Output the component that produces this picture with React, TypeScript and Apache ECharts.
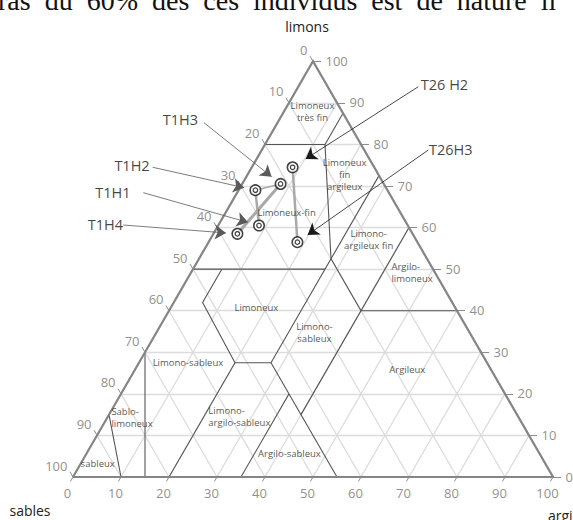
import React, { useEffect, useRef } from "react";
import * as echarts from "echarts";

// ---------- data (percent sable / limon / argile) ----------
const sampleNames = ["T1H1", "T1H2", "T1H3", "T1H4", "T26H2", "T26H3"];
const sampleSables = [31, 27.5, 21.5, 36.5, 17, 25];
const sampleLimons = [60.5, 69, 70.5, 58.5, 74.5, 56.5];
const sampleArgiles = [8.5, 3.5, 8, 5, 8.5, 18.5];

// profile links (horizon sequence)
const profileLinks: [string, string][] = [
  ["T1H1", "T1H2"],
  ["T1H2", "T1H3"],
  ["T1H3", "T1H4"],
  ["T26H2", "T26H3"],
];

const tickValues = [0, 10, 20, 30, 40, 50, 60, 70, 80, 90, 100];
const gridValues = [10, 20, 30, 40, 50, 60, 70, 80, 90];

// texture class boundaries, polylines of [sable, limon, argile]
const classBoundaries: number[][][] = [
  [[20, 80, 0], [7.5, 80, 12.5]],
  [[7.5, 80, 12.5], [0, 87.5, 12.5]],
  [[7.5, 80, 12.5], [20, 52.5, 27.5]],
  [[0, 72.5, 27.5], [45, 27.5, 27.5]],
  [[20, 52.5, 27.5], [20, 40, 40]],
  [[0, 60, 40], [45, 15, 40]],
  [[20, 40, 40], [0, 40, 60]],
  [[50, 50, 0], [22.5, 50, 27.5]],
  [[44, 50, 6], [52, 42, 6], [52.5, 27.5, 20], [45, 27.5, 27.5]],
  [[52.5, 27.5, 20], [80, 0, 20]],
  [[45, 27.5, 27.5], [45, 0, 55]],
  [[45, 20, 35], [65, 0, 35]],
  [[70, 30, 0], [85, 0, 15]],
  [[85, 15, 0], [90, 0, 10]],
];

const classNames = [
  "Limoneux\ntrès fin",
  "Limoneux\nfin\nargileux",
  "Limoneux-fin",
  "Limono-\nargileux fin",
  "Argilo-\nlimoneux",
  "Limoneux",
  "Limono-\nsableux",
  "Limono-sableux",
  "Argileux",
  "Sablo-\nlimoneux",
  "Limono-\nargilo-sableux",
  "Argilo-sableux",
  "sableux",
];

// ---------- layout ----------
const W = 573;
const H = 520;
const ORIGIN_X = 73; // pixel of sable=100 vertex
const BASE_Y = 477; // pixel of base line
const SCALE = 4.8; // px per percent
const SQ3 = Math.sqrt(3) / 2;
const FONT = "'Open Sans', 'Noto Sans', sans-serif";

// class label anchors [limon, argile, align]
const classLabelLayout: [number, number, string][] = [
  [87.8, 6.1, "center"],
  [72.6, 20.4, "center"],
  [63.6, 12.8, "center"],
  [57, 33.2, "center"],
  [49.1, 41.9, "left"],
  [40.6, 18, "center"],
  [34.6, 33.1, "center"],
  [27.5, 10.3, "center"],
  [25.7, 56.9, "center"],
  [14.2, 1.0, "left"],
  [14.4, 21.1, "left"],
  [5.6, 42.4, "center"],
  [3.1, 3.7, "center"],
];

// annotation layout (pixels): text center, arrow start, gap to marker
const annotLayout: Record<string, { label: string; text: [number, number]; start: [number, number]; gap: number; color: string }> = {
  T1H1: { label: "T1H1", text: [113.3, 192.7], start: [143.3, 192.7], gap: 6, color: "#5a5a5a" },
  T1H2: { label: "T1H2", text: [132.5, 166], start: [152.7, 167.3], gap: 6, color: "#5a5a5a" },
  T1H3: { label: "T1H3", text: [180.8, 120], start: [204, 122.7], gap: 6, color: "#5a5a5a" },
  T1H4: { label: "T1H4", text: [105.8, 225], start: [123.3, 225], gap: 6, color: "#5a5a5a" },
  T26H2: { label: "T26 H2", text: [445, 85], start: [418.3, 86.7], gap: 10, color: "#1a1a1a" },
  T26H3: { label: "T26H3", text: [451.3, 150], start: [428.3, 150], gap: 7, color: "#1a1a1a" },
};
const ARROW = 11;

const tern = (l: number, a: number): [number, number] => [a + l / 2, l * SQ3];
const px2data = (px: number, py: number): [number, number] => [(px - ORIGIN_X) / SCALE, (BASE_Y - py) / SCALE];

function buildOption() {
  const samplePos: Record<string, [number, number]> = {};
  sampleNames.forEach((n, i) => {
    samplePos[n] = tern(sampleLimons[i], sampleArgiles[i]);
  });

  const gridLines: any[] = [];
  gridValues.forEach((k) => {
    gridLines.push({ coords: [tern(k, 0), tern(k, 100 - k)] });
    gridLines.push({ coords: [tern(0, k), tern(100 - k, k)] });
    gridLines.push({ coords: [tern(0, 100 - k), tern(100 - k, 0)] });
  });

  const ticks: any[] = [];
  tickValues.forEach((k) => {
    const r = tern(k, 100 - k);
    ticks.push({ coords: [r, [r[0] + 8 / SCALE, r[1]]] });
    const l = tern(100 - k, 0);
    ticks.push({ coords: [l, [l[0] - 0.5 * 6 / SCALE, l[1] + SQ3 * 6 / SCALE]] });
    const b = tern(0, k);
    ticks.push({ coords: [b, [b[0] - 0.5 * 5 / SCALE, b[1] - SQ3 * 5 / SCALE]] });
  });

  const boundaries = classBoundaries.map((pl) => ({ coords: pl.map((p) => tern(p[1], p[2])) }));

  const triangle = [{ coords: [tern(0, 0), tern(0, 100), tern(100, 0), tern(0, 0)] }];

  const linkWidths = [2.5, 1.6, 3, 2.5];
  const links = profileLinks.map((pr, i) => ({
    coords: [samplePos[pr[0]], samplePos[pr[1]]],
    lineStyle: { width: linkWidths[i] },
  }));

  const arrows = sampleNames.map((n) => {
    const a = annotLayout[n];
    const s = px2data(a.start[0], a.start[1]);
    const m = samplePos[n];
    const dx = m[0] - s[0];
    const dy = m[1] - s[1];
    const len = Math.sqrt(dx * dx + dy * dy);
    const back = (a.gap + ARROW / 2) / SCALE;
    const e: [number, number] = [m[0] - (dx / len) * back, m[1] - (dy / len) * back];
    return { coords: [s, e], lineStyle: { color: a.color } };
  });

  const annotLabels = sampleNames.map((n) => ({
    name: annotLayout[n].label,
    value: px2data(annotLayout[n].text[0], annotLayout[n].text[1]),
  }));

  const labelScatter = (data: any[], label: any, z = 20) => ({
    type: "scatter",
    symbolSize: 1,
    silent: true,
    z,
    itemStyle: { color: "rgba(0,0,0,0)" },
    data,
    label: { show: true, formatter: "{b}", fontFamily: FONT, ...label },
  });

  const axisText = { fontSize: 13, color: "#727272" };

  return {
    animation: false,
    backgroundColor: "#ffffff",
    grid: { left: 0, right: 0, top: 0, bottom: 0, containLabel: false },
    xAxis: { type: "value", min: -ORIGIN_X / SCALE, max: (W - ORIGIN_X) / SCALE, show: false },
    yAxis: { type: "value", min: -(H - BASE_Y) / SCALE, max: BASE_Y / SCALE, show: false },
    graphic: [
      {
        type: "text",
        x: -2,
        y: 0,
        silent: true,
        style: {
          text: "ras\u00a0\u00a0du\u00a0\u00a060%\u00a0\u00a0des\u00a0\u00a0ces\u00a0\u00a0individus\u00a0\u00a0est\u00a0\u00a0de\u00a0\u00a0nature\u00a0\u00a0li",
          fontFamily: "'Liberation Serif', serif",
          fontSize: 28,
          fill: "#111",
          verticalAlign: "middle",
        },
      },
      { type: "text", x: 307, y: 26, silent: true, style: { text: "limons", fontFamily: FONT, fontSize: 14, fill: "#222", align: "center", verticalAlign: "middle" } },
      { type: "text", x: 30, y: 510, silent: true, style: { text: "sables", fontFamily: FONT, fontSize: 14, fill: "#222", align: "center", verticalAlign: "middle" } },
      { type: "text", x: 548, y: 515, silent: true, style: { text: "argiles", fontFamily: FONT, fontSize: 14, fill: "#222", align: "left", verticalAlign: "middle" } },
    ],
    series: [
      {
        type: "lines", coordinateSystem: "cartesian2d", silent: true, z: 1,
        lineStyle: { color: "#dcdcdc", width: 1.3, opacity: 1 }, data: gridLines,
      },
      {
        type: "lines", coordinateSystem: "cartesian2d", silent: true, z: 2,
        lineStyle: { color: "#8c8c8c", width: 1, opacity: 1 }, data: ticks,
      },
      {
        type: "lines", coordinateSystem: "cartesian2d", polyline: true, silent: true, z: 3,
        lineStyle: { color: "#555555", width: 1.1, opacity: 1 }, data: boundaries,
      },
      {
        type: "lines", coordinateSystem: "cartesian2d", polyline: true, silent: true, z: 4,
        lineStyle: { color: "#858585", width: 2.2, opacity: 1, join: "miter" }, data: triangle,
      },
      {
        type: "lines", coordinateSystem: "cartesian2d", silent: true, z: 5,
        lineStyle: { color: "#a9a9a9", width: 2.5, opacity: 1 }, data: links,
      },
      {
        type: "lines", coordinateSystem: "cartesian2d", silent: true, z: 6,
        symbol: ["none", "arrow"], symbolSize: ARROW,
        lineStyle: { color: "#5a5a5a", width: 0.8, opacity: 1 }, data: arrows,
      },
      {
        type: "scatter", silent: true, z: 7, symbol: "circle", symbolSize: 10.5,
        itemStyle: { color: "#ffffff", borderColor: "#111", borderWidth: 1.5 },
        data: sampleNames.map((n) => samplePos[n]),
      },
      {
        type: "scatter", silent: true, z: 8, symbol: "circle", symbolSize: 4.5,
        itemStyle: { color: "#ffffff", borderColor: "#111", borderWidth: 1.2 },
        data: sampleNames.map((n) => samplePos[n]),
      },
      labelScatter(
        classNames.map((t, i) => ({
          name: t,
          value: tern(classLabelLayout[i][0], classLabelLayout[i][1]),
          label: { align: classLabelLayout[i][2] },
        })),
        { position: [0, 0], verticalAlign: "middle", fontSize: 9.5, lineHeight: 12, color: "#2a2a2a" }
      ),
      labelScatter(
        tickValues.map((k) => ({ name: String(k), value: tern(k, 100 - k) })),
        { position: [13, 0], align: "left", verticalAlign: "middle", ...axisText }
      ),
      labelScatter(
        tickValues.map((k) => ({ name: String(k), value: tern(100 - k, 0) })),
        { position: [-5, -11], align: "right", verticalAlign: "middle", ...axisText }
      ),
      labelScatter(
        tickValues.map((k) => ({ name: String(k), value: tern(0, k) })),
        { position: [-5, 16], align: "center", verticalAlign: "middle", ...axisText }
      ),
      labelScatter(annotLabels, { position: [0, 0], align: "center", verticalAlign: "middle", fontSize: 14.5, color: "#111" }, 21),
    ],
  };
}

export default function App() {
  const ref = useRef<HTMLDivElement>(null);
  useEffect(() => {
    if (!ref.current) return;
    const chart = echarts.init(ref.current, undefined, { renderer: "svg" });
    chart.setOption(buildOption() as any);
    return () => chart.dispose();
  }, []);
  return (
    <div
      ref={ref}
      style={{ position: "absolute", left: 0, top: 0, width: W, height: H, background: "#fff" }}
    />
  );
}
